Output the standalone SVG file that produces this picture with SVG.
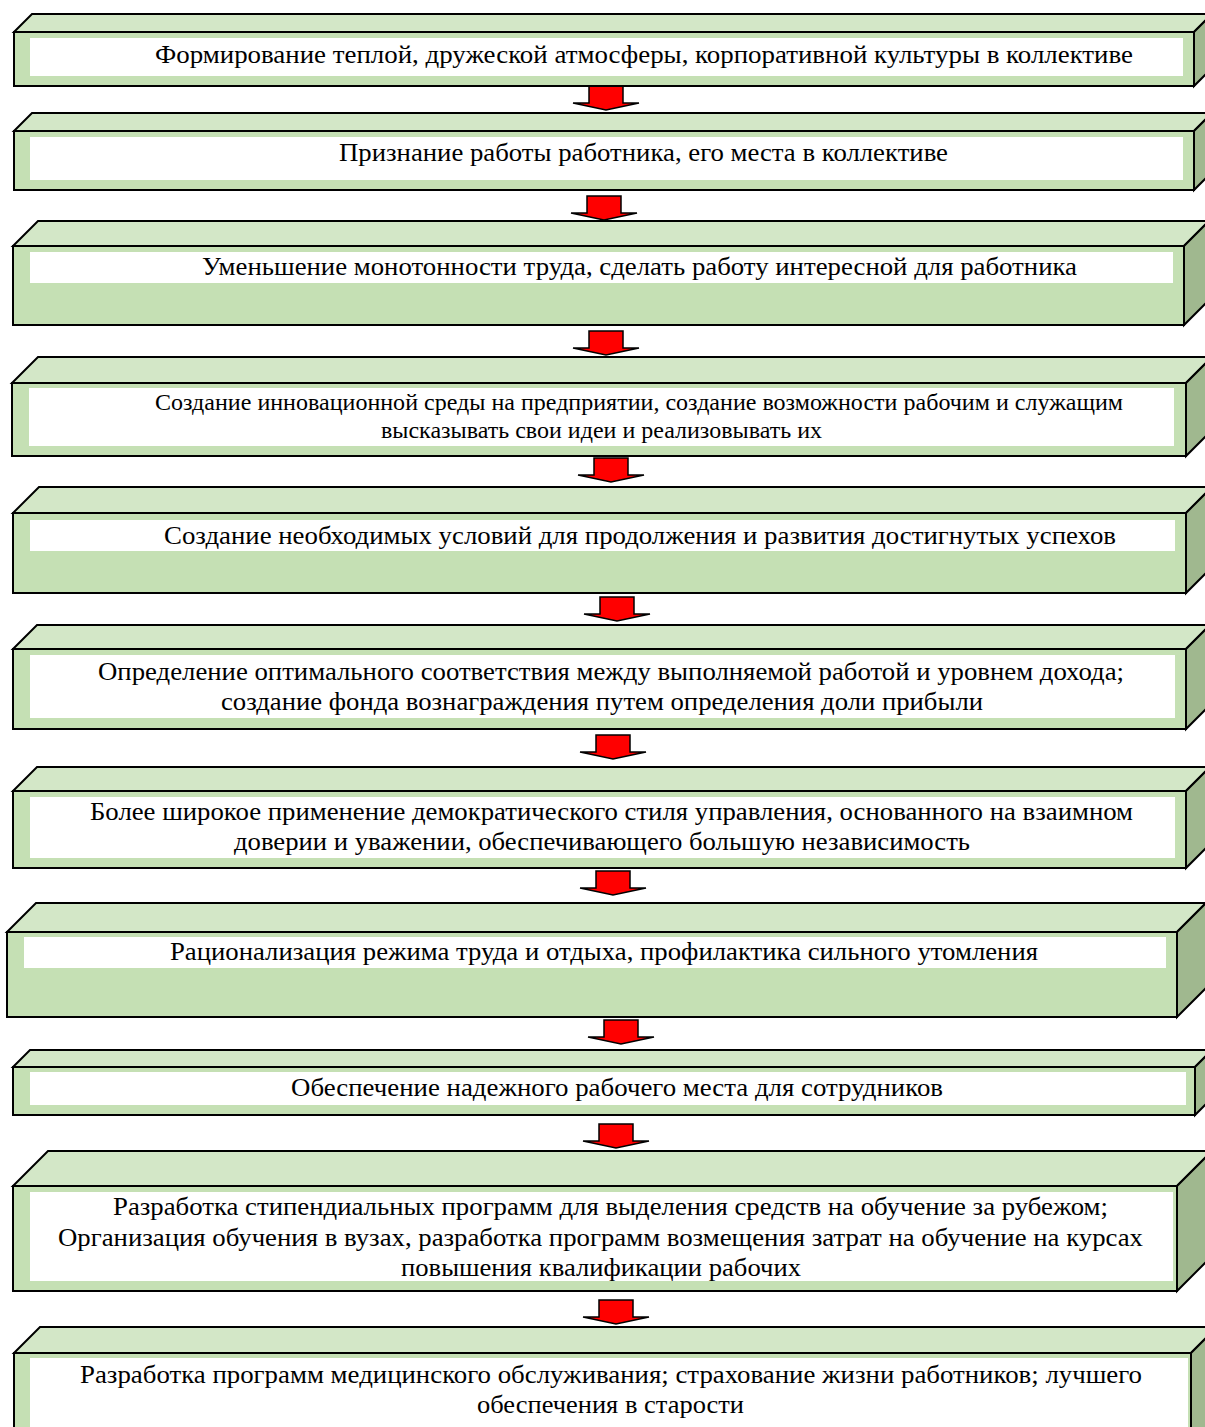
<svg xmlns="http://www.w3.org/2000/svg" xmlns:xlink="http://www.w3.org/1999/xlink" width="1205" height="1427" viewBox="0 0 1205 1427">
<style>
.front{fill:#c5e0b4;stroke:#000;stroke-width:2;stroke-linejoin:miter}
.top{fill:#d3e7c7;stroke:#000;stroke-width:2}
.side{fill:#a0b88f;stroke:#000;stroke-width:2}
.inner{fill:#fff}
.t{font-family:"Liberation Serif","Times New Roman",serif;font-size:25.3px;fill:#000}
.s{font-size:22.8px}
.arr{fill:#ff0000;stroke:#000;stroke-width:1.5;stroke-linejoin:miter}
</style>
<defs>
<polygon id="arrow" class="arr" points="-17,0 17,0 17,17 33,17 0,24 -33,17 -17,17"/>
</defs>
<rect width="1205" height="1427" fill="#fff"/>
<g id="connectors">
<use xlink:href="#arrow" transform="translate(606,86)"/>
<use xlink:href="#arrow" transform="translate(604,196)"/>
<use xlink:href="#arrow" transform="translate(606,331)"/>
<use xlink:href="#arrow" transform="translate(611,458)"/>
<use xlink:href="#arrow" transform="translate(617,597)"/>
<use xlink:href="#arrow" transform="translate(613,735)"/>
<use xlink:href="#arrow" transform="translate(613,871)"/>
<use xlink:href="#arrow" transform="translate(621,1020)"/>
<use xlink:href="#arrow" transform="translate(616,1124)"/>
<use xlink:href="#arrow" transform="translate(616,1300)"/>
</g>
<g id="node1">
<polygon class="top" points="14,32 32,14 1212,14 1194,32"/>
<polygon class="side" points="1194,32 1212,14 1212,68 1194,86"/>
<rect class="front" x="14" y="32" width="1180" height="54"/>
<rect class="inner" x="30" y="38" width="1153" height="38"/>
<text class="t" x="155" y="63" textLength="978" lengthAdjust="spacingAndGlyphs">Формирование теплой, дружеской атмосферы, корпоративной культуры в коллективе</text>
</g>
<g id="node2">
<polygon class="top" points="14,131 32,113 1212,113 1194,131"/>
<polygon class="side" points="1194,131 1212,113 1212,172 1194,190"/>
<rect class="front" x="14" y="131" width="1180" height="59"/>
<rect class="inner" x="30" y="137" width="1153" height="43"/>
<text class="t" x="339" y="161" textLength="609" lengthAdjust="spacingAndGlyphs">Признание работы работника, его места в коллективе</text>
</g>
<g id="node3">
<polygon class="top" points="13,246 38,221 1209,221 1184,246"/>
<polygon class="side" points="1184,246 1209,221 1209,300 1184,325"/>
<rect class="front" x="13" y="246" width="1171" height="79"/>
<rect class="inner" x="30" y="252" width="1143" height="31"/>
<text class="t" x="202" y="275" textLength="875" lengthAdjust="spacingAndGlyphs">Уменьшение монотонности труда, сделать работу интересной для работника</text>
</g>
<g id="node4">
<polygon class="top" points="12,383 38,357 1212,357 1186,383"/>
<polygon class="side" points="1186,383 1212,357 1212,430 1186,456"/>
<rect class="front" x="12" y="383" width="1174" height="73"/>
<rect class="inner" x="29" y="388" width="1145" height="58"/>
<text class="t s" x="155" y="410" textLength="968" lengthAdjust="spacingAndGlyphs">Создание инновационной среды на предприятии, создание возможности рабочим и служащим</text>
<text class="t s" x="381" y="438" textLength="441" lengthAdjust="spacingAndGlyphs">высказывать свои идеи и реализовывать их</text>
</g>
<g id="node5">
<polygon class="top" points="13,513 39,487 1212,487 1186,513"/>
<polygon class="side" points="1186,513 1212,487 1212,567 1186,593"/>
<rect class="front" x="13" y="513" width="1173" height="80"/>
<rect class="inner" x="30" y="520" width="1145" height="31"/>
<text class="t" x="164" y="544" textLength="952" lengthAdjust="spacingAndGlyphs">Создание необходимых условий для продолжения и развития достигнутых успехов</text>
</g>
<g id="node6">
<polygon class="top" points="13,649 37,625 1210,625 1186,649"/>
<polygon class="side" points="1186,649 1210,625 1210,705 1186,729"/>
<rect class="front" x="13" y="649" width="1173" height="80"/>
<rect class="inner" x="30" y="655" width="1145" height="63"/>
<text class="t" x="98" y="680" textLength="1026" lengthAdjust="spacingAndGlyphs">Определение оптимального соответствия между выполняемой работой и уровнем дохода;</text>
<text class="t" x="221" y="710" textLength="762" lengthAdjust="spacingAndGlyphs">создание фонда вознаграждения путем определения доли прибыли</text>
</g>
<g id="node7">
<polygon class="top" points="13,791 37,767 1210,767 1186,791"/>
<polygon class="side" points="1186,791 1210,767 1210,844 1186,868"/>
<rect class="front" x="13" y="791" width="1173" height="77"/>
<rect class="inner" x="30" y="797" width="1145" height="61"/>
<text class="t" x="90" y="820" textLength="1043" lengthAdjust="spacingAndGlyphs">Более широкое применение демократического стиля управления, основанного на взаимном</text>
<text class="t" x="234" y="850" textLength="736" lengthAdjust="spacingAndGlyphs">доверии и уважении, обеспечивающего большую независимость</text>
</g>
<g id="node8">
<polygon class="top" points="7,932 36,903 1206,903 1177,932"/>
<polygon class="side" points="1177,932 1206,903 1206,988 1177,1017"/>
<rect class="front" x="7" y="932" width="1170" height="85"/>
<rect class="inner" x="24" y="937" width="1142" height="31"/>
<text class="t" x="170" y="960" textLength="868" lengthAdjust="spacingAndGlyphs">Рационализация режима труда и отдыха, профилактика сильного утомления</text>
</g>
<g id="node9">
<polygon class="top" points="13,1067 30,1050 1212,1050 1195,1067"/>
<polygon class="side" points="1195,1067 1212,1050 1212,1098 1195,1115"/>
<rect class="front" x="13" y="1067" width="1182" height="48"/>
<rect class="inner" x="30" y="1072" width="1156" height="33"/>
<text class="t" x="291" y="1096" textLength="652" lengthAdjust="spacingAndGlyphs">Обеспечение надежного рабочего места для сотрудников</text>
</g>
<g id="node10">
<polygon class="top" points="13,1186 48,1151 1212,1151 1177,1186"/>
<polygon class="side" points="1177,1186 1212,1151 1212,1256 1177,1291"/>
<rect class="front" x="13" y="1186" width="1164" height="105"/>
<rect class="inner" x="30" y="1192" width="1143" height="89"/>
<text class="t" x="113" y="1215" textLength="995" lengthAdjust="spacingAndGlyphs">Разработка стипендиальных программ для выделения средств на обучение за рубежом;</text>
<text class="t" x="58" y="1246" textLength="1085" lengthAdjust="spacingAndGlyphs">Организация обучения в вузах, разработка программ возмещения затрат на обучение на курсах</text>
<text class="t" x="401" y="1276" textLength="400" lengthAdjust="spacingAndGlyphs">повышения квалификации рабочих</text>
</g>
<g id="node11">
<polygon class="top" points="14,1353 40,1327 1217,1327 1191,1353"/>
<polygon class="side" points="1191,1353 1217,1327 1217,1440 1191,1440"/>
<rect class="front" x="14" y="1353" width="1177" height="90"/>
<rect class="inner" x="30" y="1358" width="1158" height="90"/>
<text class="t" x="80" y="1383" textLength="1062" lengthAdjust="spacingAndGlyphs">Разработка программ медицинского обслуживания; страхование жизни работников; лучшего</text>
<text class="t" x="477" y="1413" textLength="267" lengthAdjust="spacingAndGlyphs">обеспечения в старости</text>
</g>
</svg>
